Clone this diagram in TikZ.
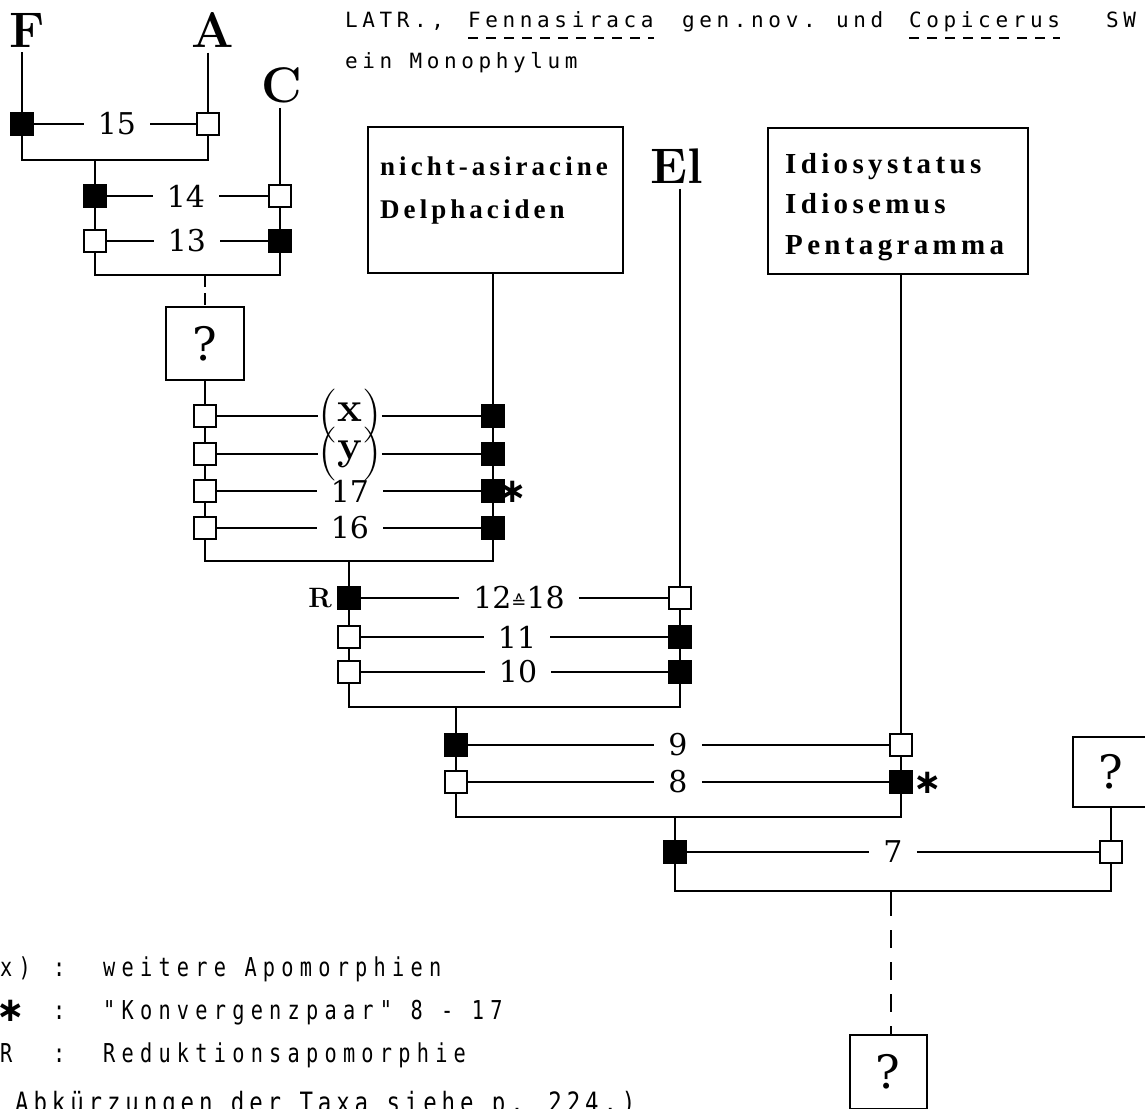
\documentclass[tikz,border=0pt]{standalone}
\usepackage{fontspec}
\newfontfamily\numfont{DejaVu Serif}
\newfontfamily\symfont{DejaVu Sans}
\newfontfamily\namefont[LetterSpace=15]{Liberation Serif}
\newfontfamily\topfont[LetterSpace=22]{DejaVu Sans Mono}
\newfontfamily\legfont[FakeStretch=0.78, LetterSpace=24]{DejaVu Sans Mono}
\newfontfamily\abkfont[FakeStretch=0.8, LetterSpace=17.5]{DejaVu Sans Mono}
\newcommand\tallparen[1]{{\fontsize{54}{54}\selectfont#1}}
\begin{document}
\begin{tikzpicture}[x=1pt,y=-1pt,
  ln/.style={line width=1.8pt},
  sqbase/.style={draw, line width=1.8pt, minimum size=22pt, inner sep=0pt, outer sep=0pt},
  wsq/.style={sqbase, fill=white},
  bsq/.style={sqbase, fill=black},
  num/.style={inner xsep=14pt, inner ysep=0pt, font=\numfont\fontsize{30}{30}\selectfont},
  plab/.style={inner sep=0pt},
  taxon/.style={inner sep=5pt, font=\fontsize{50}{50}\selectfont\bfseries},
  qbox/.style={draw, line width=2pt, inner sep=0pt, font=\numfont\fontsize{46}{46}\selectfont},
  tbox/.style={draw, line width=2pt, inner sep=0pt},
  tname/.style={inner sep=0pt, align=left, anchor=north west},
  astx/.style={inner sep=0pt, font=\symfont\bfseries\fontsize{34}{34}\selectfont},
  tw/.style={anchor=base west, inner sep=0pt, font=\topfont\fontsize{21}{21}\selectfont},
  lg/.style={anchor=base west, inner sep=0pt, font=\legfont\fontsize{26}{26}\selectfont},
  uline/.style={line width=1.6pt, dash pattern=on 10pt off 8pt},
]
\fill[white] (0,0) rectangle (1145,1108);
\useasboundingbox (0,0) rectangle (1145,1108);

% caption lines at the top
\node[tw] (t1a) at (345,28) {LATR.,};
\node[tw] (fen) at (468,28) {Fennasiraca};
\node[tw] (gen) at (682,28) {gen.nov.};
\node[tw] (und) at (836,28) {und};
\node[tw] (cop) at (909,28) {Copicerus};
\node[tw] (sw) at (1106,28) {SW};
\node[tw] (t2) at (345,68) {ein Monophylum};
\draw[uline] ([yshift=-10pt]fen.base west) -- ([yshift=-10pt]fen.base east);
\draw[uline] ([yshift=-10pt]cop.base west) -- ([yshift=-10pt]cop.base east);

% terminal taxa
\node[taxon] (F) at (27,30) {F};
\node[taxon] (A) at (213,30) {A};
\node[taxon] (C) at (282,85) {C};
\node[taxon] (El) at (677,166) {El};
\node[tbox, minimum width=255pt, minimum height=146pt] (dbox) at (495.5,200) {};
\node[tname, font=\namefont\bfseries\fontsize{27}{43}\selectfont] (dtxt) at (380,157) {nicht-asiracine\\Delphaciden};
\node[tbox, minimum width=260pt, minimum height=146pt] (ibox) at (898,201) {};
\node[tname, font=\namefont\bfseries\fontsize{29}{40.5}\selectfont] (itxt) at (785,153) {Idiosystatus\\Idiosemus\\Pentagramma};

% 15
\node[bsq] (q15l) at (22,124) {};
\node[wsq] (q15r) at (208,124) {};
\node[num] (n15) at (117,124) {15};
\draw[ln] (q15l |- F.south) -- (q15l.north);
\draw[ln] (q15r |- A.south) -- (q15r.north);
\draw[ln] (q15l.east) -- (n15.west);
\draw[ln] (n15.east) -- (q15r.west);
\coordinate (b15) at (95,160);
\draw[ln] (q15l.south) |- (b15) -| (q15r.south);

% 14, 13
\node[bsq] (q14l) at (95,196) {};
\node[wsq] (q14r) at (280,196) {};
\node[num] (n14) at (186,196) {14};
\node[wsq] (q13l) at (95,241) {};
\node[bsq] (q13r) at (280,241) {};
\node[num] (n13) at (187,241) {13};
\draw[ln] (b15) -- (q14l.north);
\draw[ln] (q14r |- C.south) -- (q14r.north);
\draw[ln] (q14l.east) -- (n14.west);
\draw[ln] (n14.east) -- (q14r.west);
\draw[ln] (q13l.east) -- (n13.west);
\draw[ln] (n13.east) -- (q13r.west);
\draw[ln] (q14l.south) -- (q13l.north);
\draw[ln] (q14r.south) -- (q13r.north);
\coordinate (b13) at (205,275);
\draw[ln] (q13l.south) |- (b13) -| (q13r.south);

% unknown sister group
\node[qbox, minimum width=78pt, minimum height=73pt] (q1) at (205,343.5) {?};
\draw[ln, dash pattern=on 12pt off 6pt] (b13) -- (q1.north);

% (x), (y), 17, 16
\node[wsq] (qxl) at (205,416) {};
\node[bsq] (qxr) at (493,416) {};
\node[wsq] (qyl) at (205,454) {};
\node[bsq] (qyr) at (493,454) {};
\node[wsq] (q17l) at (205,491) {};
\node[bsq] (q17r) at (493,491) {};
\node[wsq] (q16l) at (205,528) {};
\node[bsq] (q16r) at (493,528) {};
\node[plab] (nx) at (350,416) {\tallparen{(}\raisebox{8pt}{\fontsize{42}{42}\selectfont\bfseries x}\tallparen{)}};
\node[plab] (ny) at (350,454) {\tallparen{(}\raisebox{8pt}{\fontsize{42}{42}\selectfont\bfseries y}\tallparen{)}};
\node[num] (n17) at (350,491) {17};
\node[num] (n16) at (350,528) {16};
\node[astx] (a17) at (513,492) {∗};
\draw[ln] (q1.south) -- (qxl.north);
\draw[ln] (dbox.south -| qxr) -- (qxr.north);
\draw[ln] (qxl.east) -- (nx.west);
\draw[ln] (nx.east) -- (qxr.west);
\draw[ln] (qyl.east) -- (ny.west);
\draw[ln] (ny.east) -- (qyr.west);
\draw[ln] (q17l.east) -- (n17.west);
\draw[ln] (n17.east) -- (q17r.west);
\draw[ln] (q16l.east) -- (n16.west);
\draw[ln] (n16.east) -- (q16r.west);
\draw[ln] (qxl.south) -- (qyl.north);
\draw[ln] (qyl.south) -- (q17l.north);
\draw[ln] (q17l.south) -- (q16l.north);
\draw[ln] (qxr.south) -- (qyr.north);
\draw[ln] (qyr.south) -- (q17r.north);
\draw[ln] (q17r.south) -- (q16r.north);
\coordinate (b16) at (349,561);
\draw[ln] (q16l.south) |- (b16) -| (q16r.south);

% 12=18, 11, 10
\node[bsq] (qRl) at (349,598) {};
\node[wsq] (qRr) at (680,598) {};
\node[wsq] (q11l) at (349,637) {};
\node[bsq] (q11r) at (680,637) {};
\node[wsq] (q10l) at (349,672) {};
\node[bsq] (q10r) at (680,672) {};
\node[num] (n12) at (519,598) {12{\symfont\fontsize{18}{18}\selectfont ≙}18};
\node[num] (n11) at (517,637) {11};
\node[num] (n10) at (518,672) {10};
\node[anchor=east, inner sep=0pt, font=\fontsize{28}{28}\selectfont\bfseries] (R) at (332,598) {R};
\draw[ln] (b16) -- (qRl.north);
\draw[ln] (qRr |- El.south) -- (qRr.north);
\draw[ln] (qRl.east) -- (n12.west);
\draw[ln] (n12.east) -- (qRr.west);
\draw[ln] (q11l.east) -- (n11.west);
\draw[ln] (n11.east) -- (q11r.west);
\draw[ln] (q10l.east) -- (n10.west);
\draw[ln] (n10.east) -- (q10r.west);
\draw[ln] (qRl.south) -- (q11l.north);
\draw[ln] (q11l.south) -- (q10l.north);
\draw[ln] (qRr.south) -- (q11r.north);
\draw[ln] (q11r.south) -- (q10r.north);
\coordinate (b10) at (456,707);
\draw[ln] (q10l.south) |- (b10) -| (q10r.south);

% 9, 8
\node[bsq] (q9l) at (456,745) {};
\node[wsq] (q9r) at (901,745) {};
\node[wsq] (q8l) at (456,782) {};
\node[bsq] (q8r) at (901,782) {};
\node[num] (n9) at (678,745) {9};
\node[num] (n8) at (678,782) {8};
\node[astx] (a8) at (928,783) {∗};
\draw[ln] (b10) -- (q9l.north);
\draw[ln] (ibox.south -| q9r) -- (q9r.north);
\draw[ln] (q9l.east) -- (n9.west);
\draw[ln] (n9.east) -- (q9r.west);
\draw[ln] (q8l.east) -- (n8.west);
\draw[ln] (n8.east) -- (q8r.west);
\draw[ln] (q9l.south) -- (q8l.north);
\draw[ln] (q9r.south) -- (q8r.north);
\coordinate (b8) at (675,817);
\draw[ln] (q8l.south) |- (b8) -| (q8r.south);

% 7
\node[qbox, minimum width=76pt, minimum height=70pt] (q2) at (1111,772) {?};
\node[bsq] (q7l) at (675,852) {};
\node[wsq] (q7r) at (1111,852) {};
\node[num] (n7) at (893,852) {7};
\draw[ln] (b8) -- (q7l.north);
\draw[ln] (q2.south) -- (q7r.north);
\draw[ln] (q7l.east) -- (n7.west);
\draw[ln] (n7.east) -- (q7r.west);
\coordinate (b7) at (891,891);
\draw[ln] (q7l.south) |- (b7) -| (q7r.south);

% stem group
\node[qbox, minimum width=77pt, minimum height=74pt] (q3) at (888,1072) {?};
\coordinate (d7) at (891,916);
\draw[ln] (b7) -- (d7);
\draw[ln, dash pattern=on 18pt off 14pt, dash phase=18pt] (d7) -- (q3.north -| d7);

% legend
\node[lg] (lx) at (0,976) {x)};
\node[lg] (lxc) at (53,976) {:};
\node[lg] (lxt) at (103,976) {weitere Apomorphien};
\node[astx] (la) at (11,1011) {∗};
\node[lg] (lac) at (53,1019) {:};
\node[lg] (lat) at (103,1019) {"Konvergenzpaar" 8 - 17};
\node[lg] (lr) at (0,1062) {R};
\node[lg] (lrc) at (53,1062) {:};
\node[lg] (lrt) at (103,1062) {Reduktionsapomorphie};
\node[anchor=base west, inner sep=0pt, font=\abkfont\fontsize{28}{28}\selectfont] (labk) at (15,1112) {Abkürzungen der Taxa siehe p. 224.)};
\end{tikzpicture}
\end{document}
